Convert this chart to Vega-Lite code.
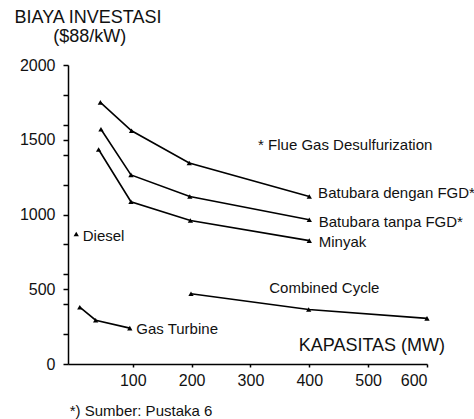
{
  "$schema": "https://vega.github.io/schema/vega-lite/v6.json",
  "width": 359,
  "height": 299,
  "autosize": {"type": "none"},
  "padding": {"left": 68, "top": 65, "right": 47, "bottom": 55},
  "background": "white",
  "config": {
    "view": {"stroke": null},
    "font": "Liberation Sans",
    "axis": {
      "grid": false,
      "domainColor": "#000",
      "domainWidth": 1.5,
      "tickColor": "#000",
      "tickWidth": 1.5,
      "labelColor": "#111",
      "labelFont": "Liberation Sans",
      "labelFontSize": 16,
      "title": null
    }
  },
  "datasets": {
    "series": [
      {"series": "Batubara dengan FGD", "x": 45, "y": 1750},
      {"series": "Batubara dengan FGD", "x": 98, "y": 1560},
      {"series": "Batubara dengan FGD", "x": 196, "y": 1345},
      {"series": "Batubara dengan FGD", "x": 400, "y": 1120},
      {"series": "Batubara tanpa FGD", "x": 46, "y": 1570},
      {"series": "Batubara tanpa FGD", "x": 97, "y": 1265},
      {"series": "Batubara tanpa FGD", "x": 197, "y": 1120},
      {"series": "Batubara tanpa FGD", "x": 400, "y": 965},
      {"series": "Minyak", "x": 42, "y": 1435},
      {"series": "Minyak", "x": 97, "y": 1085},
      {"series": "Minyak", "x": 198, "y": 960},
      {"series": "Minyak", "x": 400, "y": 825},
      {"series": "Diesel", "x": 4, "y": 870},
      {"series": "Gas Turbine", "x": 10, "y": 380},
      {"series": "Gas Turbine", "x": 37, "y": 293},
      {"series": "Gas Turbine", "x": 95, "y": 240},
      {"series": "Combined Cycle", "x": 199, "y": 470},
      {"series": "Combined Cycle", "x": 399, "y": 365},
      {"series": "Combined Cycle", "x": 600, "y": 305}
    ],
    "notes": [
      {"label": "Batubara dengan FGD*", "x": 415, "y": 1143},
      {"label": "Batubara tanpa FGD*", "x": 416, "y": 952},
      {"label": "Minyak", "x": 416, "y": 818},
      {"label": "* Flue Gas Desulfurization", "x": 313, "y": 1466},
      {"label": "Diesel", "x": 15, "y": 856},
      {"label": "Gas Turbine", "x": 106, "y": 232},
      {"label": "Combined Cycle", "x": 332, "y": 506}
    ],
    "axistitle": [
      {"label": "KAPASITAS (MW)", "x": 382, "y": 120}
    ],
    "ytitle": [
      {"label": "BIAYA INVESTASI", "x": 24, "y": 2314},
      {"label": "($88/kW)", "x": 27, "y": 2184}
    ],
    "footnote": [
      {"label": "*) Sumber: Pustaka 6", "x": -7, "y": -314}
    ]
  },
  "encoding": {
    "x": {
      "field": "x", "type": "quantitative",
      "scale": {"domain": [-10, 600], "nice": false, "zero": false},
      "axis": {"values": [100, 200, 300, 400, 500, 600], "tickSize": 3, "labelPadding": 5, "title": null}
    },
    "y": {
      "field": "y", "type": "quantitative",
      "scale": {"domain": [0, 2000], "nice": false},
      "axis": {
        "values": [0, 200, 400, 500, 600, 800, 1000, 1200, 1400, 1500, 1600, 1800, 2000],
        "labelExpr": "datum.value % 500 == 0 ? datum.label : ''",
        "tickSize": 5, "labelPadding": 8, "title": null, "format": "d"
      }
    }
  },
  "layer": [
    {
      "data": {"name": "series"},
      "mark": {"type": "line", "color": "#000", "strokeWidth": 1.6},
      "encoding": {"detail": {"field": "series"}}
    },
    {
      "data": {"name": "series"},
      "mark": {"type": "point", "shape": "triangle-up", "filled": true, "color": "#000", "size": 28, "opacity": 1}
    },
    {
      "data": {"name": "notes"},
      "mark": {"type": "text", "align": "left", "baseline": "middle", "fontSize": 15, "color": "#111", "font": "Liberation Sans"},
      "encoding": {"text": {"field": "label"}}
    },
    {
      "data": {"name": "axistitle"},
      "mark": {"type": "text", "align": "left", "baseline": "middle", "fontSize": 18, "color": "#111", "font": "Liberation Sans"},
      "encoding": {"text": {"field": "label"}}
    },
    {
      "data": {"name": "ytitle"},
      "mark": {"type": "text", "align": "center", "baseline": "middle", "fontSize": 18, "color": "#111", "font": "Liberation Sans"},
      "encoding": {"text": {"field": "label"}}
    },
    {
      "data": {"name": "footnote"},
      "mark": {"type": "text", "align": "left", "baseline": "middle", "fontSize": 15, "color": "#111", "font": "Liberation Sans"},
      "encoding": {"text": {"field": "label"}}
    }
  ]
}
